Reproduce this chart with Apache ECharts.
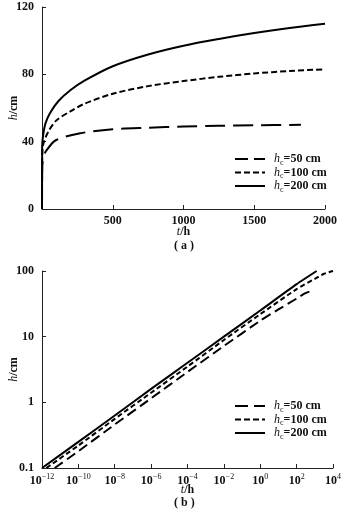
<!DOCTYPE html>
<html><head><meta charset="utf-8">
<script src="https://cdn.jsdelivr.net/npm/echarts@6/dist/echarts.min.js"></script>
<style>html,body{margin:0;padding:0;background:#fff}#c{width:349px;height:513px}</style>
</head><body><div id="c"></div>
<script>
// ---- Panel (a): linear axes ----
var a50 = [[0,0],[1,22],[3,27],[10,31],[33,35],[100,41],[270,45],[500,47.4],[750,48.3],[1000,49],[1250,49.4],[1500,49.7],[1830,50]];
var a100 = [[0,0],[1,30],[3,34],[10,39],[45,46],[100,52.5],[200,58],[300,62.5],[500,68.5],[750,73],[1000,76],[1250,78.5],[1500,80.5],[1750,82],[2000,83]];
var a200 = [[0,0],[1,36],[3,40],[10,45],[25,51],[57,57],[115,64],[200,70.5],[300,76.2],[500,84.8],[750,91.8],[1000,97],[1250,101],[1500,104.5],[1750,107.5],[2000,110]];
var aXTicks = [0,500,1000,1500,2000];
var aYTicks = [0,40,80,120];
// ---- Panel (b): log-log axes ----
var b50 = [[5e-12,0.1],[1e-10,0.18],[1e-8,0.46],[1e-6,1.15],[1e-4,2.9],[1e-2,7.2],[1,17.5],[10,26],[100,38],[300,46],[700,50]];
var b100 = [[1.74e-12,0.1],[1e-10,0.22],[1e-8,0.56],[1e-6,1.4],[1e-4,3.5],[1e-2,8.9],[1,22],[100,53],[1000,76],[3000,90],[10000,100]];
var b200 = [[1e-12,0.1],[1e-10,0.25],[1e-8,0.63],[1e-6,1.6],[1e-4,4],[1e-2,10],[1,25],[100,63],[1260,100]];
var bXTicks = ['10^-12','10^-10','10^-8','10^-6','10^-4','10^-2','10^0','10^2','10^4'];
var bYTicks = ['0.1','1','10','100'];
var legendLabels = ['50 cm','100 cm','200 cm'];

var FONT = 'Liberation Serif';
var txt = {fontFamily: FONT, fontSize: 12, color: '#111', fontWeight: 'bold'};
var richH = {
  i: {fontFamily: FONT, fontSize: 12, fontStyle: 'italic', color: '#111'},
  s: {fontFamily: FONT, fontSize: 8, color: '#111', padding: [7,0,0,0]},
  n: {fontFamily: FONT, fontSize: 12, color: '#111', fontWeight: 'bold'}
};
var supRich = {
  n: {fontFamily: FONT, fontSize: 12, color: '#111', fontWeight: 'bold'},
  sup: {fontFamily: FONT, fontSize: 8, color: '#111', padding: [0,0,7,0]}
};
function legendFmt(name) {
  var k = name.slice(1);
  var lab = k === '50' ? legendLabels[0] : k === '100' ? legendLabels[1] : legendLabels[2];
  return '{i|h}{s|c}{n|=' + lab + '}';
}
var axisLineStyle = {lineStyle: {color: '#222', width: 1}};
var tickStyle = {inside: true, length: 4, lineStyle: {color: '#222'}};

var chart = echarts.init(document.getElementById('c'), null, {renderer: 'canvas'});
chart.setOption({
  animation: false,
  backgroundColor: '#fff',
  grid: [
    {left: 42, top: 7, width: 283, height: 202, containLabel: false, outerBoundsMode: 'none'},
    {left: 42, top: 271, width: 291, height: 197, containLabel: false, outerBoundsMode: 'none'}
  ],
  xAxis: [
    {gridIndex: 0, type: 'value', min: aXTicks[0], max: aXTicks[aXTicks.length-1], interval: 500,
     axisLine: axisLineStyle, axisTick: tickStyle, splitLine: {show: false},
     axisLabel: Object.assign({margin: 6, showMinLabel: false, formatter: function (v) { return String(v); }}, txt),
     name: '{i|t}{n|/h}', nameLocation: 'middle', nameGap: 17, nameMoveOverlap: false,
     nameTextStyle: {rich: richH}},
    {gridIndex: 1, type: 'log', logBase: 100, min: 1e-12, max: 1e4,
     axisLine: axisLineStyle, axisTick: tickStyle, splitLine: {show: false}, minorTick: {show: false},
     axisLabel: {margin: 5, formatter: function (v) {
        var e = Math.round(Math.log10(v));
        var lab = bXTicks[(e + 12) / 2];
        var p = lab.split('^');
        return '{n|' + p[0] + '}{sup|' + p[1].replace('-', '\u2212') + '}';
     }, rich: supRich},
     name: '{i|t}{n|/h}', nameLocation: 'middle', nameGap: 16, nameMoveOverlap: false,
     nameTextStyle: {rich: richH}}
  ],
  yAxis: [
    {gridIndex: 0, type: 'value', min: aYTicks[0], max: aYTicks[aYTicks.length-1], interval: 40,
     axisLine: Object.assign({show: true}, axisLineStyle), axisTick: Object.assign({show: true}, tickStyle),
     splitLine: {show: false},
     axisLabel: Object.assign({margin: 8}, txt),
     name: '{i|h}{n|/cm}', nameLocation: 'middle', nameGap: 22, nameMoveOverlap: false,
     nameTextStyle: {rich: richH}},
    {gridIndex: 1, type: 'log', logBase: 10, min: 0.1, max: 100,
     axisLine: Object.assign({show: true}, axisLineStyle), axisTick: Object.assign({show: true}, tickStyle),
     splitLine: {show: false}, minorTick: {show: false},
     axisLabel: Object.assign({margin: 8, formatter: function (v) {
        var e = Math.round(Math.log10(v));
        return bYTicks[e + 1];
     }}, txt),
     name: '{i|h}{n|/cm}', nameLocation: 'middle', nameGap: 22, nameMoveOverlap: false,
     nameTextStyle: {rich: richH}}
  ],
  legend: [
    {left: 229, top: 148, orient: 'vertical', itemWidth: 30, itemHeight: 14, itemGap: 0,
     itemStyle: {opacity: 0},
     formatter: legendFmt, textStyle: {rich: richH, padding: [0,0,0,4]},
     data: [
       {name: 'a50', lineStyle: {type: [13,6], width: 2}},
       {name: 'a100', lineStyle: {type: [6,3], width: 2}},
       {name: 'a200'}
     ]},
    {left: 229, top: 395, orient: 'vertical', itemWidth: 30, itemHeight: 14.5, itemGap: 0,
     itemStyle: {opacity: 0},
     formatter: legendFmt, textStyle: {rich: richH, padding: [0,0,0,4]},
     data: [
       {name: 'b50', lineStyle: {type: [13,6], width: 2}},
       {name: 'b100', lineStyle: {type: [6,3], width: 2}},
       {name: 'b200'}
     ]}
  ],
  graphic: [
    {type: 'text', left: 174, top: 240, style: {text: '( a )', font: 'bold 12px "Liberation Serif"', fill: '#111'}},
    {type: 'text', left: 174, top: 497, style: {text: '( b )', font: 'bold 12px "Liberation Serif"', fill: '#111'}}
  ],
  series: [
    {name: 'a50', type: 'line', xAxisIndex: 0, yAxisIndex: 0, data: a50, showSymbol: false, symbol: 'none', smooth: 0.3,
     lineStyle: {color: '#000', width: 2, type: [20,8]}, itemStyle: {color: '#000'}},
    {name: 'a100', type: 'line', xAxisIndex: 0, yAxisIndex: 0, data: a100, showSymbol: false, symbol: 'none', smooth: 0.3,
     lineStyle: {color: '#000', width: 2, type: [6,3]}, itemStyle: {color: '#000'}},
    {name: 'a200', type: 'line', xAxisIndex: 0, yAxisIndex: 0, data: a200, showSymbol: false, symbol: 'none', smooth: 0.3,
     lineStyle: {color: '#000', width: 2, type: 'solid'}, itemStyle: {color: '#000'}},
    {name: 'b50', type: 'line', xAxisIndex: 1, yAxisIndex: 1, data: b50, showSymbol: false, symbol: 'none', smooth: 0.2,
     lineStyle: {color: '#000', width: 2, type: [10,5]}, itemStyle: {color: '#000'}},
    {name: 'b100', type: 'line', xAxisIndex: 1, yAxisIndex: 1, data: b100, showSymbol: false, symbol: 'none', smooth: 0.2,
     lineStyle: {color: '#000', width: 2, type: [5,3]}, itemStyle: {color: '#000'}},
    {name: 'b200', type: 'line', xAxisIndex: 1, yAxisIndex: 1, data: b200, showSymbol: false, symbol: 'none', smooth: 0.2,
     lineStyle: {color: '#000', width: 2, type: 'solid'}, itemStyle: {color: '#000'}}
  ]
});
</script></body></html>
